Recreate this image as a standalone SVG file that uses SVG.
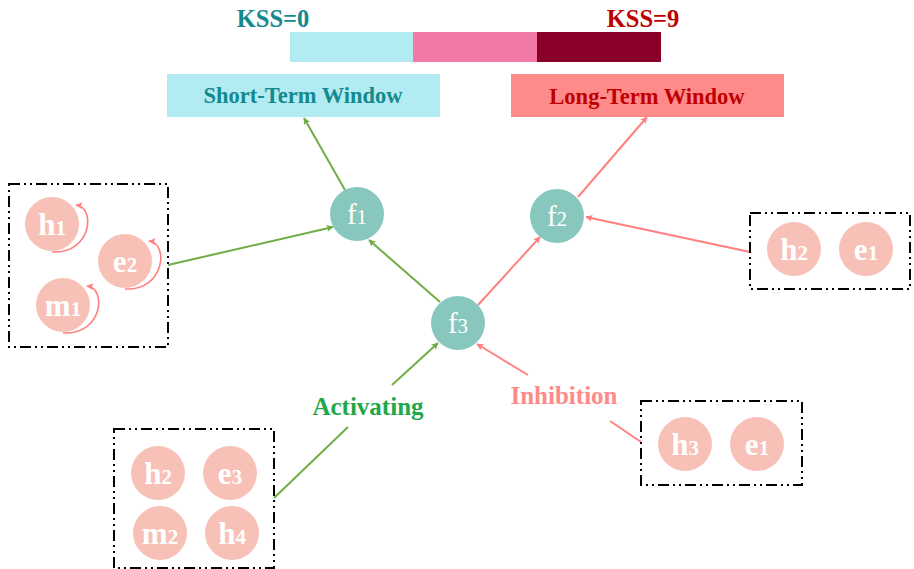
<svg xmlns="http://www.w3.org/2000/svg" width="914" height="569" viewBox="0 0 914 569">
<defs>
<marker id="ag" viewBox="0 0 10 10" refX="9" refY="5" markerWidth="7" markerHeight="7" orient="auto" markerUnits="userSpaceOnUse"><path d="M0,0 L10,5 L0,10 L2,5 Z" fill="#70AD47"/></marker>
<marker id="ap" viewBox="0 0 10 10" refX="9" refY="5" markerWidth="7" markerHeight="7" orient="auto" markerUnits="userSpaceOnUse"><path d="M0,0 L10,5 L0,10 L2,5 Z" fill="#FF8080"/></marker>
<style>
.t{font-family:"Liberation Serif","Times New Roman",serif;font-weight:bold}
.box{fill:none;stroke:#000;stroke-width:2;stroke-dasharray:11 4 2 4 2 4}
.pc{fill:#F8C1B8}
.fc{fill:#88C7BD}
.nt{font-family:"Liberation Serif","Times New Roman",serif;font-weight:bold;fill:#fff;font-size:31px;text-anchor:middle}
.ft{font-family:"Liberation Serif","Times New Roman",serif;fill:#fff;font-size:29px;text-anchor:middle}
.sub{font-size:21px}
.g{stroke:#70AD47;stroke-width:2;fill:none}
.p{stroke:#FF8080;stroke-width:2;fill:none}
.loop{stroke:#FF8080;stroke-width:1.6;fill:none}
</style>
</defs>

<g id="scale">
<rect x="290" y="32" width="124" height="30" fill="#B3EBF2"/>
<rect x="413" y="32" width="125" height="30" fill="#F279A6"/>
<rect x="537" y="32" width="124" height="30" fill="#8B0029"/>
<text class="t" x="273" y="27" font-size="24.5" fill="#128A8F" text-anchor="middle">KSS=0</text>
<text class="t" x="643" y="27" font-size="24.5" fill="#C00000" text-anchor="middle">KSS=9</text>
</g>

<g id="short-term">
<rect x="167" y="74" width="273" height="43" fill="#B3EBF2"/>
<text class="t" x="303" y="103" font-size="22.5" fill="#138A8E" text-anchor="middle">Short-Term Window</text>
</g>
<g id="long-term">
<rect x="511" y="74" width="273" height="43" fill="#FF8A8A"/>
<text class="t" x="647" y="104" font-size="22.5" fill="#C00000" text-anchor="middle">Long-Term Window</text>
</g>

<g id="connectors">
<line class="g" x1="345" y1="190" x2="304" y2="118" marker-end="url(#ag)"/>
<line class="p" x1="578" y1="197" x2="647" y2="117" marker-end="url(#ap)"/>
<line class="g" x1="168" y1="265" x2="333" y2="227" marker-end="url(#ag)"/>
<line class="p" x1="750" y1="252" x2="586" y2="217" marker-end="url(#ap)"/>
<line class="g" x1="440" y1="302" x2="369" y2="240" marker-end="url(#ag)"/>
<line class="p" x1="478" y1="305" x2="540" y2="237" marker-end="url(#ap)"/>
<line class="g" x1="274" y1="498" x2="348" y2="427"/>
<line class="g" x1="392" y1="385" x2="438" y2="343" marker-end="url(#ag)"/>
<line class="p" x1="641" y1="442" x2="610" y2="421"/>
<line class="p" x1="528" y1="375" x2="477" y2="344" marker-end="url(#ap)"/>
</g>

<g id="label-activating">
<text class="t" x="368" y="415" font-size="25" fill="#1DA84A" text-anchor="middle">Activating</text>
</g>
<g id="label-inhibition">
<text class="t" x="564" y="404" font-size="25" fill="#FF8A8A" text-anchor="middle">Inhibition</text>
</g>

<g id="f1">
<circle class="fc" cx="357" cy="214" r="27"/>
<text class="ft" x="357" y="224">f<tspan class="sub">1</tspan></text>
</g>
<g id="f2">
<circle class="fc" cx="557" cy="216" r="27"/>
<text class="ft" x="557" y="226">f<tspan class="sub">2</tspan></text>
</g>
<g id="f3">
<circle class="fc" cx="458" cy="323" r="27"/>
<text class="ft" x="458" y="333">f<tspan class="sub">3</tspan></text>
</g>

<g id="group-left">
<rect class="box" x="9" y="184" width="159" height="163"/>
<circle class="pc" cx="52" cy="224" r="27"/>
<text class="nt" x="52" y="235">h<tspan class="sub">1</tspan></text>
<path class="loop" d="M52,252 C92,254 96,207 76,205" marker-end="url(#ap)"/>
<circle class="pc" cx="125" cy="261" r="27"/>
<text class="nt" x="125" y="272">e<tspan class="sub">2</tspan></text>
<path class="loop" d="M125,289 C165,291 169,243 149,241" marker-end="url(#ap)"/>
<circle class="pc" cx="63" cy="305" r="27"/>
<text class="nt" x="63" y="316">m<tspan class="sub">1</tspan></text>
<path class="loop" d="M63,333 C103,335 107,288 87,286" marker-end="url(#ap)"/>
</g>

<g id="group-right">
<rect class="box" x="750" y="213" width="160" height="76"/>
<circle class="pc" cx="794" cy="249" r="27"/>
<text class="nt" x="794" y="260">h<tspan class="sub">2</tspan></text>
<circle class="pc" cx="866" cy="249" r="27"/>
<text class="nt" x="866" y="260">e<tspan class="sub">1</tspan></text>
</g>

<g id="group-inhibition">
<rect class="box" x="641" y="401" width="161" height="84"/>
<circle class="pc" cx="685" cy="444" r="27"/>
<text class="nt" x="685" y="455">h<tspan class="sub">3</tspan></text>
<circle class="pc" cx="757" cy="444" r="27"/>
<text class="nt" x="757" y="455">e<tspan class="sub">1</tspan></text>
</g>

<g id="group-activating">
<rect class="box" x="114" y="429" width="160" height="139"/>
<circle class="pc" cx="158" cy="473" r="27"/>
<text class="nt" x="158" y="484">h<tspan class="sub">2</tspan></text>
<circle class="pc" cx="230" cy="473" r="27"/>
<text class="nt" x="230" y="484">e<tspan class="sub">3</tspan></text>
<circle class="pc" cx="160" cy="533" r="27"/>
<text class="nt" x="160" y="544">m<tspan class="sub">2</tspan></text>
<circle class="pc" cx="232" cy="533" r="27"/>
<text class="nt" x="232" y="544">h<tspan class="sub">4</tspan></text>
</g>
</svg>
